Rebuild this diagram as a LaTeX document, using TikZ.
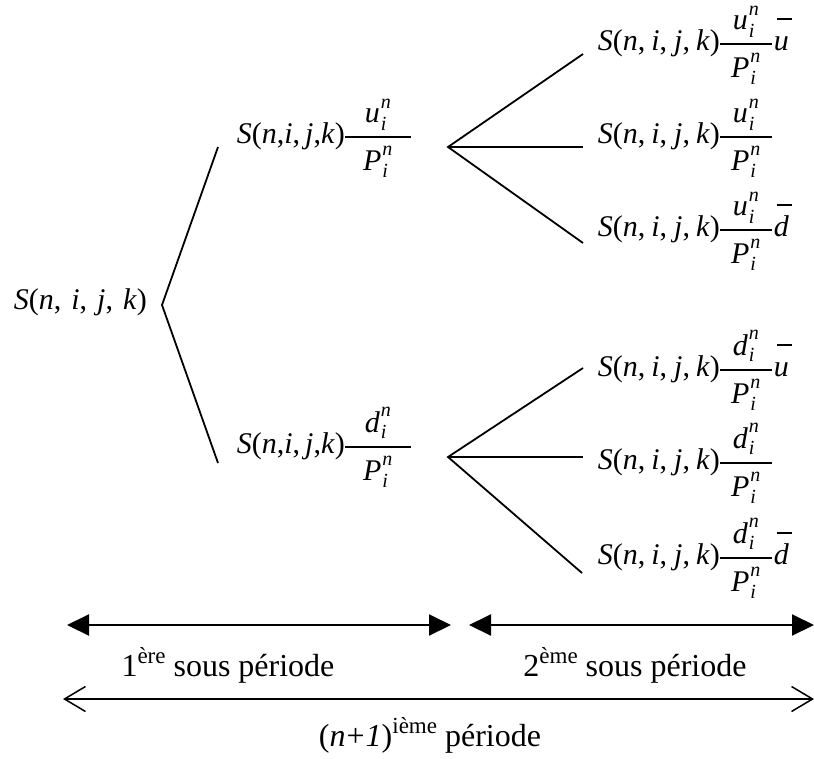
\documentclass[tikz,border=0pt]{standalone}
\usepackage{fontspec}
\setmainfont{Liberation Serif}
\usetikzlibrary{arrows.meta}
\newcommand{\myss}{\fontsize{20}{20}\selectfont}
\newcommand{\lsi}[3]{\textit{#1}\hspace{1pt}\rlap{\raisebox{-#3}{\myss\textit{i}}}\raisebox{#2}{\myss\textit{n}}}
\newcommand{\fr}[3]{%
  \makebox[0pt][l]{\makebox[#1][c]{\raisebox{21pt}{#2}}}%
  \makebox[0pt][l]{\makebox[#1][c]{\raisebox{-27pt}{#3}}}%
  \rule[5.3pt]{#1}{1.6pt}}
\newcommand{\ob}[1]{\hspace{2pt}\rlap{\hspace{3pt}\rule[30pt]{15pt}{1.6pt}}\textit{#1}}
\newcommand{\Sx}[2]{\textit{S}(\textit{n},\hspace{#1}\textit{i},\hspace{#2}\textit{j},\hspace{#1}\textit{k})}
\newcommand{\U}{\lsi{u}{14pt}{8pt}}
\newcommand{\D}{\lsi{d}{16pt}{6pt}}
\newcommand{\PP}{\lsi{P}{15pt}{7pt}}
\newcommand{\sups}[1]{\raisebox{0.4em}{\fontsize{23}{23}\selectfont #1}}
\begin{document}
\begin{tikzpicture}[x=1pt,y=-1pt,line width=1.8pt,
  txt/.style={inner sep=0pt,anchor=base west,font=\fontsize{30}{30}\selectfont},
  lab/.style={inner sep=0pt,anchor=base,font=\fontsize{32}{32}\selectfont},
  fillarr/.style={line width=2pt,{Triangle[length=22pt,width=21pt]}-{Triangle[length=22pt,width=21pt]}},
  openarr/.style={line width=1.5pt,{Straight Barb[length=21pt,width=25pt]}-{Straight Barb[length=21pt,width=25pt]}}]
\useasboundingbox (0,0) rectangle (814,758);
% nodes
\node[txt] (root) at (13,309) {\Sx{10pt}{10pt}};
\node[txt] (mu) at (236,143) {\Sx{0pt}{5pt}\fr{66pt}{\U}{\PP}};
\node[txt] (md) at (236,453) {\Sx{0pt}{5pt}\fr{66pt}{\D}{\PP}};
\node[txt] (r1) at (597,50) {\Sx{6pt}{7pt}\fr{52pt}{\U}{\PP}\ob{u}};
\node[txt] (r2) at (597,143) {\Sx{6pt}{7pt}\fr{52pt}{\U}{\PP}};
\node[txt] (r3) at (597,236) {\Sx{6pt}{7pt}\fr{52pt}{\U}{\PP}\ob{d}};
\node[txt] (r4) at (597,376) {\Sx{6pt}{7pt}\fr{52pt}{\D}{\PP}\ob{u}};
\node[txt] (r5) at (597,469) {\Sx{6pt}{7pt}\fr{52pt}{\D}{\PP}};
\node[txt] (r6) at (597,564) {\Sx{6pt}{7pt}\fr{52pt}{\D}{\PP}\ob{d}};
% connector points
\coordinate (v0) at (162,305);
\coordinate (vu) at (218,147);
\coordinate (vd) at (218,463);
\coordinate (bu) at (448,147);
\coordinate (bd) at (448,457);
\coordinate (e1) at (583,54);
\coordinate (e2) at (583,147);
\coordinate (e3) at (583,243);
\coordinate (e4) at (583,368);
\coordinate (e5) at (583,457);
\coordinate (e6) at (582,573);
\draw (vu) -- (v0) -- (vd);
\draw (e1) -- (bu) -- (e3);
\draw (bu) -- (e2);
\draw (e4) -- (bd) -- (e6);
\draw (bd) -- (e5);
% period arrows
\coordinate (a1) at (67,625);
\coordinate (a2) at (451,625);
\coordinate (a3) at (469,625);
\coordinate (a4) at (814,625);
\coordinate (b1) at (63,699);
\coordinate (b2) at (814,699);
\draw[fillarr] (a1) -- (a2);
\draw[fillarr] (a3) -- (a4);
\draw[openarr] (b1) -- (b2);
\node[lab] (l1) at (228,676) {1\sups{ère} sous période};
\node[lab] (l2) at (635,676) {2\sups{ème} sous période};
\node[lab] (l3) at (430,746) {(\textit{n}\kern1pt+\kern1pt\textit{1})\sups{ième} période};
\end{tikzpicture}
\end{document}
